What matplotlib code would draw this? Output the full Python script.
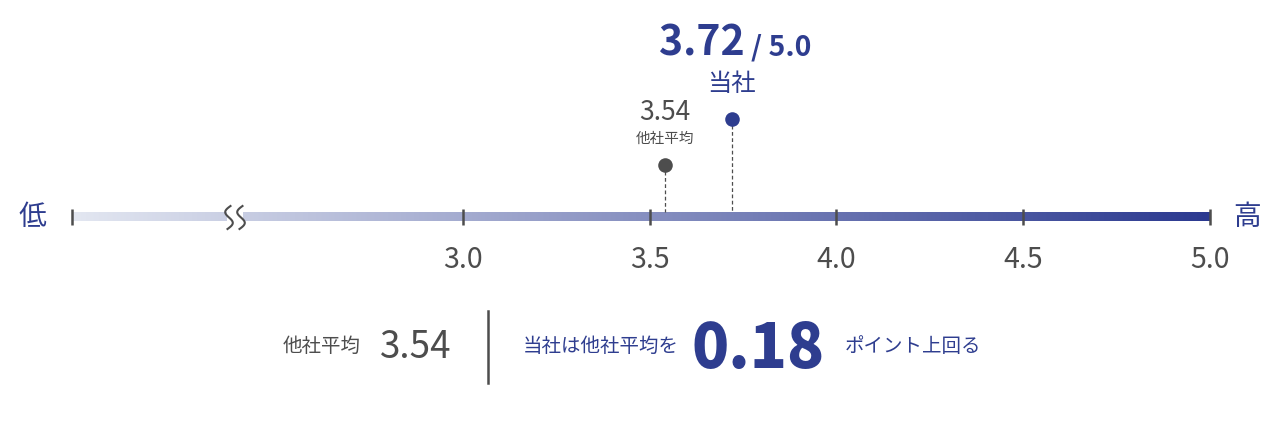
import numpy as np
import matplotlib
matplotlib.use('Agg')
from matplotlib import pyplot as plt
from matplotlib.colors import LinearSegmentedColormap

plt.rcParams['font.family'] = ['Noto Sans CJK JP', 'DejaVu Sans']

# data
scale_ticks = [3.0, 3.5, 4.0, 4.5, 5.0]
tick_labels = ['3.0', '3.5', '4.0', '4.5', '5.0']
scale_start = 1.952   # left end of the (broken) scale
break_at = 2.39
our_score = 3.72
avg_score = 3.54
max_score = 5.0
our_label = '当社'
avg_label = '他社平均'
low_label = '低'
high_label = '高'
lead_text = '当社は他社平均を'
tail_text = 'ポイント上回る'

navy = '#2e3d8f'
gray = '#4d4d4d'
W, H = 1282, 428

fig = plt.figure(figsize=(W / 100, H / 100), dpi=100)
ax = fig.add_axes([0, 0, 1, 1])
ax.axis('off')

# pixel -> value helper, scale is linear between 3.0 (463px) and 5.0 (1210px)
px_per_unit = (1210 - 463) / 2.0
def v(px):
    return 3.0 + (px - 463) / px_per_unit

bar_top, bar_bot = 212, 221
bar_mid = (bar_top + bar_bot) / 2

# gradient bar
cmap = LinearSegmentedColormap.from_list('g', ['#e3e7f1', '#2b3990'])
grad = np.linspace(0, 1, 512).reshape(1, -1)
ax.imshow(grad, cmap=cmap, aspect='auto', extent=(scale_start, max_score, bar_bot, bar_top),
          interpolation='bilinear', zorder=1)

# ticks
for t in [scale_start] + scale_ticks:
    ax.plot([t, t], [bar_top - 3, bar_bot + 4], color=gray, lw=1.8, zorder=3, solid_capstyle='butt')
for t, lab in zip(scale_ticks, tick_labels):
    ax.text(t, 268, lab, ha='center', va='baseline', fontsize=20.5, color=gray)

# axis break (two wavy lines)
bx = 235
ax.fill_between([v(bx - 8), v(bx + 8)], bar_top - 1, bar_bot + 1, color='white', zorder=2, lw=0)
yy = np.linspace(206, 229, 80)
s = (yy - 206) / 23
for dx in [-6, 6]:
    xx = bx + dx - 4.5 * np.sin(2 * np.pi * s) + 3 * (0.5 - s)
    ax.plot(v(xx), yy, color=gray, lw=1.5, zorder=4)

ax.text(v(32), bar_mid, low_label, ha='center', va='center', fontsize=20, color=navy)
ax.text(v(1247), bar_mid, high_label, ha='center', va='center', fontsize=20, color=navy)

# lollipops
avg_y, our_y = 165, 119
ax.plot([avg_score, avg_score], [avg_y, bar_top], color=gray, lw=0.9, ls=(0, (3, 2)), zorder=2)
ax.plot([our_score, our_score], [our_y, bar_top], color=gray, lw=0.9, ls=(0, (3, 2)), zorder=2)
ax.scatter([avg_score], [avg_y], s=110, color=gray, zorder=5, lw=0)
ax.scatter([our_score], [our_y], s=110, color=navy, zorder=5, lw=0)

ax.annotate(f'{avg_score:.2f}', (avg_score, 120), xytext=(0, 0), textcoords='offset pixels',
            ha='center', va='baseline', fontsize=19, color=gray)
ax.annotate(avg_label, (avg_score, 139), ha='center', va='center', fontsize=10.5, color=gray)
ax.annotate(our_label, (our_score, 84), ha='center', va='center', fontsize=17.5, color=navy)
ax.annotate(f'{our_score:.2f}', (our_score, 55), xytext=(13, 0), textcoords='offset pixels',
            ha='right', va='baseline', fontsize=29.5, fontweight='bold', color=navy)
ax.annotate(f'/ {max_score:.1f}', (our_score, 55), xytext=(19, 0), textcoords='offset pixels',
            ha='left', va='baseline', fontsize=20.5, fontweight='bold', color=navy)

# summary row
ax.text(v(283), 346, avg_label, ha='left', va='center', fontsize=14, color=gray)
ax.text(v(380), 358, f'{avg_score:.2f}', ha='left', va='baseline', fontsize=26.5, color=gray)
ax.plot([v(488), v(488)], [311, 383], color=gray, lw=1.8)
ax.text(v(523), 346, lead_text, ha='left', va='center', fontsize=14, color=navy)
ax.text(v(692), 368, f'{our_score - avg_score:.2f}', ha='left', va='baseline', fontsize=44,
        fontweight='heavy', color=navy)
ax.text(v(845), 346, tail_text, ha='left', va='center', fontsize=14, color=navy)

ax.set_xlim(v(0), v(W))
ax.set_ylim(H, 0)

fig.savefig('out.png', dpi=100)
